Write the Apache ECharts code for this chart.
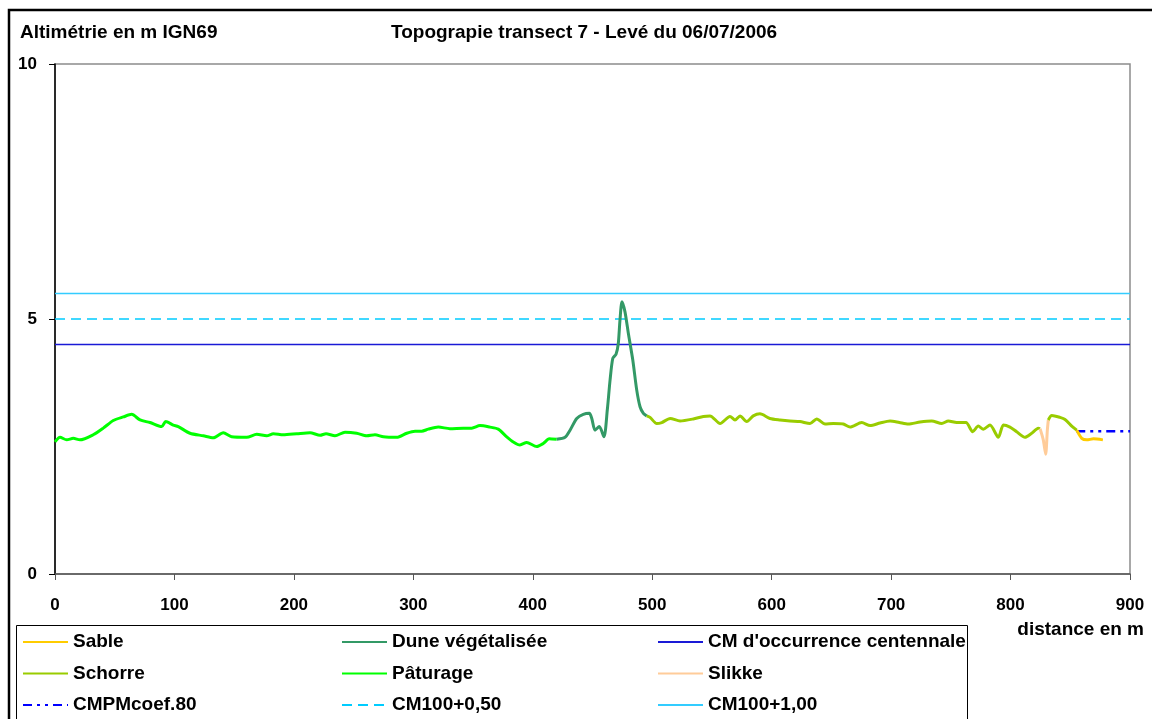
<!DOCTYPE html>
<html>
<head>
<meta charset="utf-8">
<script src="https://cdn.jsdelivr.net/npm/echarts@6/dist/echarts.min.js"></script>
<style>
html,body{margin:0;padding:0;background:#fff;}
#chart{width:1152px;height:719px;}
</style>
</head>
<body>
<div id="chart"></div>
<script>
// Data (distance in m, altitude in m IGN69)
var xTicks = [0, 100, 200, 300, 400, 500, 600, 700, 800, 900];
var yTicks = [0, 5, 10];

var paturage = [[0,2.59],[4.2,2.68],[9.8,2.63],[15.3,2.66],[20.9,2.63],[32,2.73],[40.4,2.86],[48.8,3.01],[57.2,3.08],[64.2,3.13],[71.2,3.02],[79.5,2.97],[89.3,2.89],[92.7,2.99],[99,2.92],[103.2,2.89],[113,2.76],[124.2,2.71],[132.5,2.67],[140.9,2.77],[147.9,2.69],[160.5,2.68],[168.9,2.74],[177.2,2.71],[182.8,2.75],[191.1,2.73],[202.4,2.75],[213.5,2.77],[221.9,2.72],[226.9,2.75],[234.4,2.71],[242.8,2.78],[252.6,2.76],[261,2.71],[267.9,2.73],[274.9,2.69],[286.1,2.68],[294.5,2.76],[301.4,2.80],[307,2.80],[312.5,2.84],[320.9,2.88],[330.7,2.85],[341.8,2.86],[348.9,2.86],[355.8,2.91],[364.2,2.88],[371.1,2.84],[378.2,2.69],[383.7,2.59],[389.3,2.53],[394.9,2.58],[403.3,2.50],[408.8,2.56],[413.8,2.65],[420,2.64]];

var dune = [[420,2.64],[427,2.68],[431.2,2.82],[436.8,3.05],[442.3,3.13],[447.3,3.15],[449.4,3.05],[452.1,2.82],[455.7,2.89],[459.6,2.69],[462.4,3.22],[464.7,3.80],[467,4.23],[469.7,4.31],[471.6,4.52],[473,4.98],[474.7,5.34],[477.2,5.14],[480,4.72],[483.7,4.20],[487,3.61],[489.8,3.28],[492.6,3.15],[495.4,3.10]];

var schorre1 = [[495.4,3.10],[498.2,3.07],[503.8,2.95],[508,2.97],[515,3.05],[523.3,3.00],[534.4,3.04],[542.8,3.09],[548.4,3.10],[556.8,2.95],[565.1,3.09],[569.3,3.02],[573.5,3.10],[579.1,2.99],[584.6,3.10],[590.2,3.14],[598.6,3.05],[607,3.02],[615.3,3.00],[623.7,2.99],[632.1,2.95],[637.7,3.04],[644.7,2.94],[651.6,2.95],[660,2.94],[665.6,2.88],[675.4,2.97],[682.4,2.91],[690.7,2.96],[699.1,3.00],[706.9,2.97],[714.4,2.94],[724.2,2.98],[734,3.00],[742.4,2.95],[747.9,3.00],[754.9,2.97],[762.7,2.97],[768.3,2.79],[773,2.90],[777.2,2.84],[782.8,2.92],[789.8,2.68],[794,2.92],[799.5,2.88],[805.1,2.79],[812.1,2.68],[817.7,2.76],[823.2,2.86],[824.7,2.85]];

var slikke = [[824.7,2.85],[827.4,2.63],[829.4,2.35],[830.8,2.82],[831.6,3.02]];

var schorre2 = [[831.6,3.02],[834.5,3.11],[841.4,3.07],[845.6,3.03],[851.2,2.90],[855.4,2.82]];

var sable = [[855.4,2.82],[859.6,2.66],[863.8,2.63],[869.4,2.65],[877.3,2.63]];

var cmpm = [[855,2.8],[900,2.8]];
var cmOcc = [[0,4.5],[900,4.5]];
var cm050 = [[0,5.0],[900,5.0]];
var cm100 = [[0,5.5],[900,5.5]];

var FONT = 'Liberation Sans, Arial, sans-serif';

function prof(name, data, color) {
  return {
    name: name, type: 'line', data: data, symbol: 'none', smooth: 0.25,
    lineStyle: { color: color, width: 3 }, itemStyle: { color: color },
    z: 3
  };
}
function hline(name, data, color, type, width) {
  return {
    name: name, type: 'line', data: data, symbol: 'none',
    lineStyle: { color: color, width: width, type: type }, itemStyle: { color: color },
    z: 2
  };
}

var legendText = { fontFamily: FONT, fontWeight: 'bold', fontSize: 19, color: '#000', lineHeight: 19 };
function legend(left, names) {
  return {
    orient: 'vertical', left: left, top: 632.5, itemWidth: 45, itemHeight: 14,
    itemGap: 12.5, data: names, textStyle: legendText, selectedMode: false,
    padding: 0, itemStyle: { opacity: 0 }
  };
}

var chart = echarts.init(document.getElementById('chart'), null, { renderer: 'canvas' });
chart.setOption({
  animation: false,
  backgroundColor: '#fff',
  title: [
    { text: 'Altimétrie en m IGN69', left: 20, top: 23, padding: 0,
      textStyle: { fontFamily: FONT, fontWeight: 'bold', fontSize: 19, color: '#000' } },
    { text: 'Topograpie transect 7 - Levé du 06/07/2006', left: 391, top: 23, padding: 0,
      textStyle: { fontFamily: FONT, fontWeight: 'bold', fontSize: 19, color: '#000' } }
  ],
  graphic: [
    { type: 'rect', shape: { x: 9, y: 10, width: 1300, height: 900 }, silent: true, z: -1,
      style: { fill: 'none', stroke: '#000', lineWidth: 2.5 } },
    { type: 'rect', shape: { x: 16.5, y: 625.5, width: 951, height: 200 }, silent: true, z: -1,
      style: { fill: 'none', stroke: '#000', lineWidth: 1 } }
  ],
  legend: [
    legend(22, ['Sable', 'Schorre', 'CMPMcoef.80']),
    legend(341, ['Dune végétalisée', 'Pâturage', 'CM100+0,50']),
    legend(657, ["CM d'occurrence centennale", 'Slikke', 'CM100+1,00'])
  ],
  grid: { left: 55, right: 22, top: 64, bottom: 145, show: true, borderColor: '#8c8c8c', borderWidth: 1.5, backgroundColor: '#fff' },
  xAxis: {
    type: 'value', min: 0, max: 900, interval: 100,
    name: 'distance en m', nameLocation: 'end', nameGap: 14,
    nameTextStyle: { fontFamily: FONT, fontWeight: 'bold', fontSize: 19, color: '#000', align: 'right', verticalAlign: 'top', padding: [46, 0, 0, 0] },
    axisLine: { lineStyle: { color: '#555', width: 1.5 } },
    axisTick: { show: true, inside: false, length: 6, lineStyle: { color: '#555' } },
    axisLabel: { margin: 23, fontFamily: FONT, fontWeight: 'bold', fontSize: 17, color: '#000',
      formatter: function (v) { return xTicks.indexOf(v) >= 0 ? String(v) : ''; } },
    splitLine: { show: false }
  },
  yAxis: {
    type: 'value', min: 0, max: 10, interval: 5,
    axisLine: { show: true, lineStyle: { color: '#000', width: 1.5 } },
    axisTick: { show: true, inside: false, length: 6, lineStyle: { color: '#000' } },
    axisLabel: { margin: 18, fontFamily: FONT, fontWeight: 'bold', fontSize: 17, color: '#000',
      formatter: function (v) { return yTicks.indexOf(v) >= 0 ? String(v) : ''; } },
    splitLine: { show: false }
  },
  series: [
    hline("CM d'occurrence centennale", cmOcc, '#1a1ad6', 'solid', 1.5),
    hline('CM100+0,50', cm050, '#00ccff', [10, 6], 1.5),
    hline('CM100+1,00', cm100, '#33ccff', 'solid', 1.5),
    hline('CMPMcoef.80', cmpm, '#0000ff', [9, 5, 3, 5, 3, 5], 2.5),
    prof('Pâturage', paturage, '#00ff00'),
    prof('Dune végétalisée', dune, '#339966'),
    prof('Schorre', schorre1, '#99cc00'),
    prof('Slikke', slikke, '#ffcc99'),
    prof('Schorre', schorre2, '#99cc00'),
    prof('Sable', sable, '#ffcc00')
  ]
});
</script>
</body>
</html>
